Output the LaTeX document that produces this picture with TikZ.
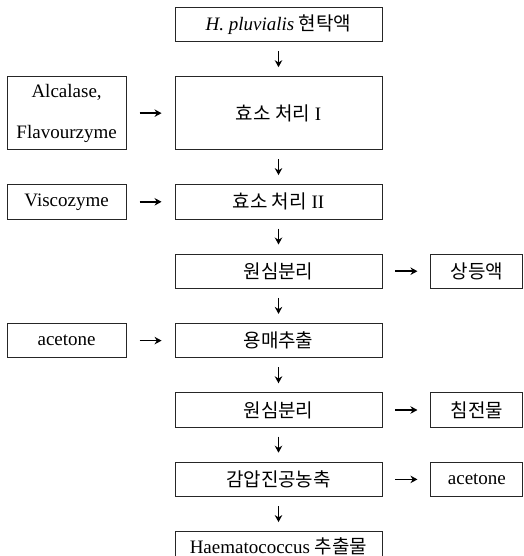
\documentclass[tikz,border=0pt]{standalone}
\usepackage{fontspec}
\setmainfont{Liberation Serif}
\newfontfamily\kr{Noto Sans CJK KR}
\usetikzlibrary{positioning}
\usetikzlibrary{arrows.meta}

\begin{document}
\begin{tikzpicture}[>={Stealth[length=7pt,width=7.5pt]},node distance=34pt and 48pt,
				font=\fontsize{19}{24}\selectfont]
				\tikzstyle{mainbox}=[draw=black!85,rectangle,line width=0.9pt,inner sep=0pt,minimum width=207pt,minimum height=34.5pt]
				\tikzstyle{leftbox}=[mainbox,minimum width=119pt]
				\tikzstyle{rightbox}=[mainbox,minimum width=92pt]
				\tikzstyle{vflow}=[->,line width=1.5pt,shorten <=9pt,shorten >=9pt]
				\tikzstyle{hflow}=[->,line width=1.5pt,shorten <=13pt,shorten >=13pt]
				
				\useasboundingbox (0,0) rectangle (523pt,-556pt);
				
				% main column
				\node[mainbox] (Susp) at (278.5pt,-24.5pt) {\textit{H. pluvialis} {\kr 현탁액}};
				\node[mainbox,minimum height=73pt] (EnzI) [below=of Susp] {{\kr 효소 처리} I};
				\node[mainbox] (EnzII)  [below=of EnzI]  {{\kr 효소 처리} II};
				\node[mainbox] (CentA)  [below=of EnzII] {\kr 원심분리};
				\node[mainbox] (Solv)   [below=of CentA] {\kr 용매추출};
				\node[mainbox] (CentB)  [below=of Solv]  {\kr 원심분리};
				\node[mainbox] (Conc)   [below=of CentB] {\kr 감압진공농축};
				\node[mainbox,text height=15pt,text depth=6pt] (Extr) [below=of Conc] {Haematococcus {\kr 추출물}};
				
				% inputs and outputs
				\node[leftbox,minimum height=73pt,align=center,font=\fontsize{19}{41}\selectfont]
				(Enzymes) [left=of EnzI] {Alcalase,\\Flavourzyme};
				\node[leftbox]  (Visco)   [left=of EnzII] {Viscozyme};
				\node[leftbox]  (AcetIn)  [left=of Solv]  {acetone};
				\node[rightbox] (Super)   [right=of CentA] {\kr 상등액};
				\node[rightbox] (Prec)    [right=of CentB] {\kr 침전물};
				\node[rightbox] (AcetOut) [right=of Conc]  {acetone};
				
				\foreach \a/\b in {Susp/EnzI,EnzI/EnzII,EnzII/CentA,CentA/Solv,Solv/CentB,CentB/Conc,Conc/Extr}
				\draw[vflow] (\a) -- (\b);
				\foreach \a/\b in {Enzymes/EnzI,Visco/EnzII,AcetIn/Solv,CentA/Super,CentB/Prec,Conc/AcetOut}
				\draw[hflow] (\a) -- (\b);
\end{tikzpicture}
\end{document}
